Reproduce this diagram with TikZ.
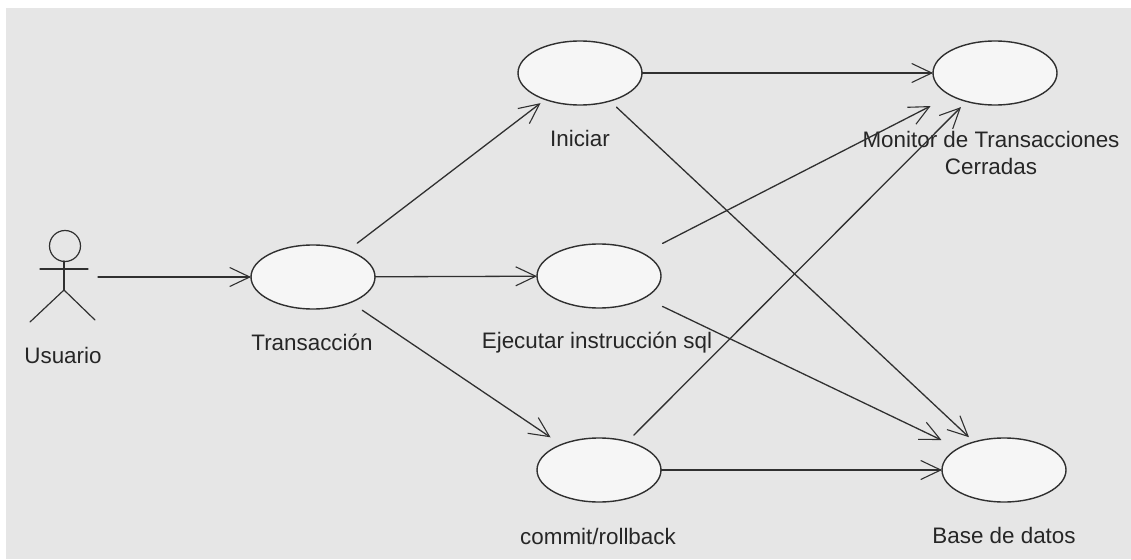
\documentclass[tikz,border=0pt]{standalone}
\usepackage{fontspec}
\setmainfont{Liberation Sans}
\usetikzlibrary{shapes.geometric,arrows.meta,positioning}
\definecolor{fondo}{HTML}{E6E6E6}
\definecolor{relleno}{HTML}{F6F6F6}
\definecolor{linea}{HTML}{303030}
\begin{document}
\begin{tikzpicture}[x=1pt,y=-1pt,line join=round,line cap=round,>={Straight Barb[length=20pt,width=19pt,line width=1.1pt]}]
\tikzset{caso/.style={draw=linea,line width=1.4pt,fill=relleno,ellipse,minimum width=124pt,minimum height=64pt,inner sep=0pt,outer sep=0pt}}
\tikzset{rotulo/.style={text=black!85,font=\fontsize{22.4}{27}\selectfont,align=center,inner sep=0pt}}
\tikzset{rel/.style={->,draw=linea,line width=1.3pt}}
\useasboundingbox (0,0) rectangle (1131,559);
\fill[white] (0,0) rectangle (1131,559);
\fill[fondo] (6,8) rectangle (1131,559);
% actor
\draw[linea,line width=1.2pt] (65,246) circle (15.5);
\draw[linea,line width=1.2pt] (40,269)--(88,269);
\draw[linea,line width=1.2pt] (64,261)--(64,290);
\draw[linea,line width=1.2pt] (30,322)--(64,290)--(95,320);
\node[inner sep=0pt,outer sep=0pt,minimum width=70pt,minimum height=20pt] (usuario) at (63,277) {};
\node[rotulo] (lusuario) at (63,355) {Usuario};
% casos de uso
\node[caso] (trans) at (313,277) {};
\node[caso] (ini) at (580,73) {};
\node[caso] (ejec) at (599,276) {};
\node[caso] (commit) at (599,470) {};
\node[caso] (mon) at (995,73) {};
\node[caso] (base) at (1004,470) {};
\node[rotulo] (ltrans) at (312,342) {Transacción};
\node[rotulo] (lini) at (580,138) {Iniciar};
\node[rotulo] (lejec) at (597,343) {Ejecutar instrucción sql};
\node[rotulo] (lcommit) at (598,536) {commit/rollback};
\node[rotulo] (lmon) at (991,153) {Monitor de Transacciones\\Cerradas};
\node[rotulo] (lbase) at (1004,535) {Base de datos};
% relaciones
\foreach \a/\b/\s/\e in {usuario/trans/0/0,trans/ini/12/6,trans/ejec/0/0,trans/commit/14/13,ini/mon/0/0,ini/base/9/7,ejec/mon/22/23,ejec/base/20/19,commit/mon/9/8,commit/base/0/0}
\draw[rel,shorten <=\s pt,shorten >=\e pt] (\a)--(\b);
\end{tikzpicture}
\end{document}
